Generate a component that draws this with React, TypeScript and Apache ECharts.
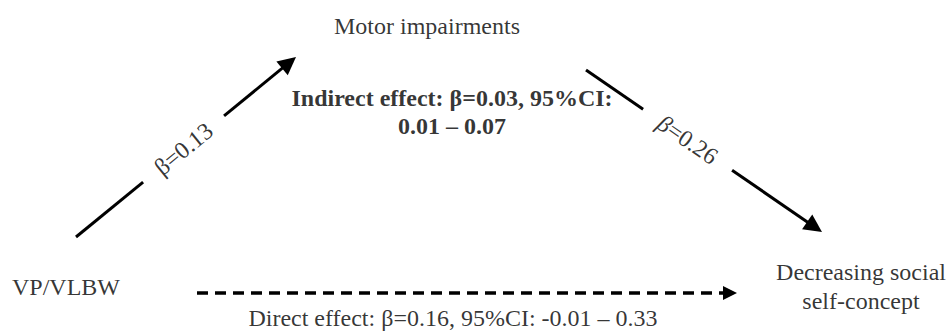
import React, { useEffect, useRef } from "react";
import * as echarts from "echarts";

// ---- data ----
const nodeNames = ["VP/VLBW", "Motor impairments", "Decreasing social\nself-concept"];
const pathBetas = [0.13, 0.26]; // a path (exposure -> mediator), b path (mediator -> outcome)
const indirectEffect = [0.03, 0.01, 0.07]; // beta, CI low, CI high
const directEffect = [0.16, -0.01, 0.33]; // beta, CI low, CI high

// ---- layout (pixel space of the 947x331 canvas) ----
const W = 947;
const H = 331;
const nodePos = [
  [66, 287],
  [427, 26],
  [861, 286],
];
// arrows: start, tip, gap fractions [t0, t1] for the label
const arrowLayout = [
  { from: [76, 237], to: [296, 57], gap: [0.305, 0.673] },
  { from: [586, 70], to: [822, 232], gap: [0.242, 0.619] },
];
const directLayout = { from: [197, 293], to: [737, 293] };
const indirectPos = [452, 112];
const directPos = [453, 318];

const FONT = "Liberation Serif, serif";
const f2 = (v: number) => v.toFixed(2);

export default function App() {
  const ref = useRef<HTMLDivElement>(null);
  useEffect(() => {
    if (!ref.current) return;
    const chart = echarts.init(ref.current, undefined, { renderer: "svg" });

    const headLen = 18;
    const plainSegs: any[] = [];
    const arrowSegs: any[] = [];
    const betaLabels: any[] = [];
    arrowLayout.forEach((a, i) => {
      const [x0, y0] = a.from;
      const [x1, y1] = a.to;
      const dx = x1 - x0;
      const dy = y1 - y0;
      const len = Math.sqrt(dx * dx + dy * dy);
      const ux = dx / len;
      const uy = dy / len;
      const p = (t: number) => [x0 + dx * t, y0 + dy * t];
      plainSegs.push({ coords: [a.from, p(a.gap[0])] });
      arrowSegs.push({ coords: [p(a.gap[1]), [x1 - (ux * headLen) / 2, y1 - (uy * headLen) / 2]] });
      const c = p((a.gap[0] + a.gap[1]) / 2);
      const ang = (-Math.atan2(dy, dx) * 180) / Math.PI;
      betaLabels.push({
        value: c,
        label: {
          rotate: ang,
          formatter: i === 1 ? `{i|β}=${f2(pathBetas[i])}` : `β=${f2(pathBetas[i])}`,
        },
      });
    });

    const dHead = 14;
    const directSeg = [
      {
        coords: [directLayout.from, [directLayout.to[0] - dHead / 2, directLayout.to[1]]],
      },
    ];

    const textBase = {
      show: true,
      position: "inside",
      color: "#000",
      fontFamily: FONT,
      fontSize: 24,
    };

    const nodeData = nodeNames.map((n, i) => ({ value: nodePos[i], name: n }));

    const option: any = {
      animation: false,
      backgroundColor: "#fff",
      grid: { left: 0, right: 0, top: 0, bottom: 0 },
      xAxis: { type: "value", min: 0, max: W, show: false },
      yAxis: { type: "value", min: 0, max: H, inverse: true, show: false },
      series: [
        {
          type: "lines",
          coordinateSystem: "cartesian2d",
          silent: true,
          symbol: "none",
          lineStyle: { color: "#000", width: 3, opacity: 1, type: "solid" },
          data: plainSegs,
        },
        {
          type: "lines",
          coordinateSystem: "cartesian2d",
          silent: true,
          symbol: ["none", "triangle"],
          symbolSize: [15, headLen],
          lineStyle: { color: "#000", width: 3, opacity: 1, type: "solid" },
          data: arrowSegs,
        },
        {
          type: "lines",
          coordinateSystem: "cartesian2d",
          silent: true,
          symbol: ["none", "triangle"],
          symbolSize: [14, dHead],
          lineStyle: { color: "#000", width: 3.5, opacity: 1, type: [11, 7] },
          data: directSeg,
        },
        {
          type: "scatter",
          silent: true,
          symbolSize: 0,
          label: {
            ...textBase,
            lineHeight: 29,
            formatter: (p: any) => p.name,
          },
          data: nodeData,
        },
        {
          type: "scatter",
          silent: true,
          symbolSize: 0,
          label: {
            ...textBase,
            rich: { i: { fontFamily: FONT, fontSize: 24, fontStyle: "italic", color: "#000" } },
          },
          data: betaLabels,
        },
        {
          type: "scatter",
          silent: true,
          symbolSize: 0,
          label: {
            ...textBase,
            fontWeight: "bold",
            lineHeight: 28,
            formatter: `Indirect effect: β=${f2(indirectEffect[0])}, 95%CI:\n${f2(indirectEffect[1])} – ${f2(indirectEffect[2])}`,
          },
          data: [{ value: indirectPos }],
        },
        {
          type: "scatter",
          silent: true,
          symbolSize: 0,
          label: {
            ...textBase,
            formatter: `Direct effect: β=${f2(directEffect[0])}, 95%CI: ${f2(directEffect[1])} – ${f2(directEffect[2])}`,
          },
          data: [{ value: directPos }],
        },
      ],
    };
    chart.setOption(option);
    return () => chart.dispose();
  }, []);
  return (
    <div
      ref={ref}
      style={{ position: "absolute", left: 0, top: 0, width: W, height: H, background: "#fff" }}
    />
  );
}
